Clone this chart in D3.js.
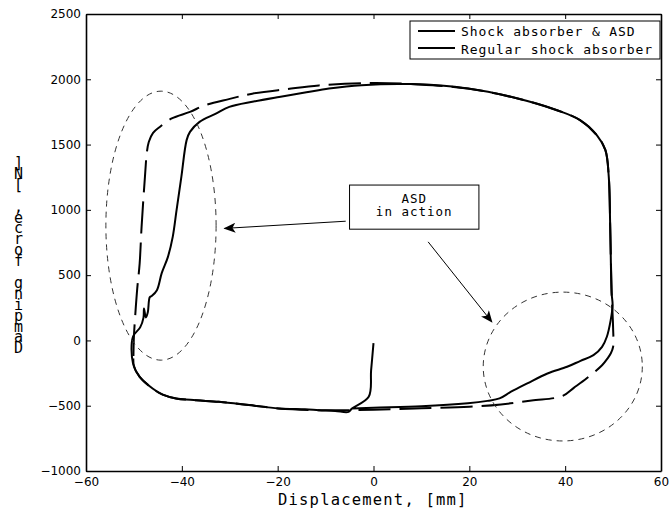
<!DOCTYPE html>
<html lang="en">
<head>
<meta charset="UTF-8">
<title>Damping force vs displacement</title>
<script src="https://d3js.org/d3.v7.min.js"></script>
<style>
    body { margin: 0; background: #fff; overflow: hidden; }
    .tick text { font-family: "DejaVu Sans", sans-serif; font-size: 12px; fill: #000; }
    .mono { font-family: "DejaVu Sans Mono", monospace; fill: #000; }
</style>
</head>
<body>
<div id="chart"></div>
<script>
const width = 669, height = 512;
const margin = { top: 14, right: 4, bottom: 41, left: 86 };

// axis ticks
const xTicks = [-60, -40, -20, 0, 20, 40, 60];
const yTicks = [-1000, -500, 0, 500, 1000, 1500, 2000, 2500];

// Regular shock absorber (solid)
const regularDisp = [0, -0.5, -1.0, -4.5, -5.2, -8, -11.4, -14.3, -19.8, -26, -32.3, -37, -41.2, -44, -46.1, -48.8, -50.2, -50.2,
    -48.7, -48.0, -47.9, -47.5, -47.1, -46.7, -46.3, -45.2, -44.2, -42.9, -41.9, -41.1, -40.1, -39.0, -38.3, -36.3, -33, -30.1,
    -25, -19.7, -14, -9.3, -2.5, 7.9, 19.7, 30.1, 38.3, 43.1, 46.6, 48.4, 49.1, 49.4, 49.7, 49.9, 49.5, 48.7, 47.7, 45.9,
    43.2, 40.4, 36.3, 32.1, 28.7, 26.3, 23.8, 19.7, 10, 0, -4.5];
const regularForce = [-20, -230, -432, -521, -547, -540, -534, -528, -521, -495, -470, -458, -444, -415, -368, -279, -174, 28,
    100, 175, 245, 175, 215, 330, 340, 385, 515, 640, 793, 998, 1253, 1534, 1597, 1674, 1735, 1789,
    1830, 1865, 1900, 1929, 1955, 1963, 1929, 1853, 1763, 1687, 1572, 1457, 1253, 870, 362, 270, 155, 28, -49, -113,
    -156, -202, -253, -329, -393, -444, -463, -482, -505, -515, -521];

// Shock absorber & ASD (dashed)
const asdDisp = [-50.1, -50.0, -49.7, -49.3, -48.8, -48.4, -47.7, -47.3, -46.9, -46.0, -44.6, -42.1, -38.3, -35.2, -30, -25.3,
    -18, -11.4, -0.4, 9.3, 19.7, 30.1, 38.3, 43.1, 46.6, 48.4, 49.1, 49.4, 49.7, 50.0, 50.0, 49.5, 48.8, 47.7, 44.5,
    41.8, 39.4, 33, 26.6, 20, 10, 0, -10, -19.8, -26, -32.3, -37, -41.2, -44, -46.1, -48.8, -50.0, -50.1];
const asdForce = [-120, 30, 205, 400, 590, 870, 1253, 1440, 1520, 1590, 1635, 1700, 1750, 1801, 1850, 1890,
    1925, 1953, 1971, 1961, 1929, 1853, 1763, 1687, 1572, 1457, 1253, 870, 362, 100, -50, -100, -140, -190, -290,
    -363, -426, -460, -490, -508, -520, -530, -535, -521, -495, -470, -458, -444, -415, -368, -279, -200, -120];

const legendLabels = ["Shock absorber & ASD", "Regular shock absorber"];
const xLabel = "Displacement, [mm]";
const yLabel = "Damping force, [N]";
const noteLines = ["ASD", "in action"];

// highlighted regions (data units): cx, cy, rx, ry
const regions = [
    { cx: -44.35, cy: 879, rx: 11.5, ry: 1030 },
    { cx: 39.5, cy: -200, rx: 16.6, ry: 570 }
];
// annotation box and arrows (data units)
const noteBox = { x0: -5, x1: 22, y0: 1190, y1: 852 };
const arrows = [
    { from: [-5.8, 913], to: [-31.1, 858] },
    { from: [11.4, 755], to: [24.7, 142] }
];

const x = d3.scaleLinear().domain([-60, 60]).range([margin.left, width - margin.right - 4]);
const y = d3.scaleLinear().domain([-1000, 2500]).range([height - margin.bottom, margin.top]);

const svg = d3.select("#chart").append("svg")
    .attr("width", width)
    .attr("height", height);

svg.append("defs").append("marker")
    .attr("id", "head")
    .attr("viewBox", "0 0 12 10")
    .attr("refX", 11).attr("refY", 5)
    .attr("markerWidth", 12).attr("markerHeight", 10)
    .attr("markerUnits", "userSpaceOnUse")
    .attr("orient", "auto")
    .append("path")
    .attr("d", "M0,0 L12,5 L0,10 L3,5 Z")
    .attr("fill", "#000");

// axes: inward ticks on all four sides
const x0 = x(-60), x1 = x(60), y0 = y(-1000), y1 = y(2500);
const fmt = d3.format("d");
const axisStyle = g => {
    g.select(".domain").attr("stroke", "#000").attr("stroke-width", 1.6);
    g.selectAll(".tick line").attr("stroke", "#000");
};
svg.append("g")
    .attr("transform", `translate(0,${y0})`)
    .call(d3.axisBottom(x).tickValues(xTicks).tickFormat(fmt).tickSize(-5).tickSizeOuter(0).tickPadding(6))
    .call(axisStyle);
svg.append("g")
    .attr("transform", `translate(0,${y1})`)
    .call(d3.axisTop(x).tickValues(xTicks).tickSize(-5).tickSizeOuter(0).tickFormat(""))
    .call(axisStyle);
svg.append("g")
    .attr("transform", `translate(${x0},0)`)
    .call(d3.axisLeft(y).tickValues(yTicks).tickFormat(fmt).tickSize(-5).tickSizeOuter(0).tickPadding(5))
    .call(axisStyle);
svg.append("g")
    .attr("transform", `translate(${x1},0)`)
    .call(d3.axisRight(y).tickValues(yTicks).tickSize(-5).tickSizeOuter(0).tickFormat(""))
    .call(axisStyle);

// curves
const line = d3.line()
    .x(d => x(d[0]))
    .y(d => y(d[1]))
    .curve(d3.curveCatmullRom.alpha(0.5));

svg.append("path")
    .datum(d3.zip(regularDisp, regularForce))
    .attr("d", line)
    .attr("fill", "none")
    .attr("stroke", "#000")
    .attr("stroke-width", 2)
    .attr("stroke-linejoin", "round");

svg.append("path")
    .datum(d3.zip(asdDisp, asdForce))
    .attr("d", line)
    .attr("fill", "none")
    .attr("stroke", "#000")
    .attr("stroke-width", 2)
    .attr("stroke-dasharray", "32,9");

// dashed ellipses
svg.selectAll(".region")
    .data(regions)
    .enter().append("ellipse")
    .attr("class", "region")
    .attr("cx", d => x(d.cx))
    .attr("cy", d => y(d.cy))
    .attr("rx", d => x(d.rx) - x(0))
    .attr("ry", d => y(0) - y(d.ry))
    .attr("fill", "none")
    .attr("stroke", "#333")
    .attr("stroke-width", 1)
    .attr("stroke-dasharray", "6,5");

// annotation
svg.append("rect")
    .attr("x", x(noteBox.x0))
    .attr("y", y(noteBox.y0))
    .attr("width", x(noteBox.x1) - x(noteBox.x0))
    .attr("height", y(noteBox.y1) - y(noteBox.y0))
    .attr("fill", "#fff")
    .attr("stroke", "#000")
    .attr("stroke-width", 1);

svg.selectAll(".note")
    .data(noteLines)
    .enter().append("text")
    .attr("class", "mono note")
    .attr("x", (x(noteBox.x0) + x(noteBox.x1)) / 2)
    .attr("y", (d, i) => y(noteBox.y0) + 18 + i * 12.5)
    .attr("text-anchor", "middle")
    .style("font-size", "12.5px")
    .style("letter-spacing", "1px")
    .text(d => d);

svg.selectAll(".arrow")
    .data(arrows)
    .enter().append("line")
    .attr("class", "arrow")
    .attr("x1", d => x(d.from[0])).attr("y1", d => y(d.from[1]))
    .attr("x2", d => x(d.to[0])).attr("y2", d => y(d.to[1]))
    .attr("stroke", "#000")
    .attr("stroke-width", 1)
    .attr("marker-end", "url(#head)");

// legend
const legend = svg.append("g").attr("transform", "translate(410,21)");
legend.append("rect")
    .attr("width", 250).attr("height", 38)
    .attr("fill", "#fff").attr("stroke", "#000").attr("stroke-width", 1);
legendLabels.forEach((label, i) => {
    legend.append("line")
        .attr("x1", 8).attr("x2", 45)
        .attr("y1", 10 + i * 17).attr("y2", 10 + i * 17)
        .attr("stroke", "#000").attr("stroke-width", 2);
    legend.append("text")
        .attr("class", "mono")
        .attr("x", 51).attr("y", 15 + i * 17.5)
        .style("font-size", "13px")
        .style("letter-spacing", "0.9px")
        .text(label);
});

// axis labels
svg.append("text")
    .attr("class", "mono")
    .attr("x", 278).attr("y", 505)
    .style("font-size", "15.5px")
    .style("letter-spacing", "1.2px")
    .text(xLabel);

// y label: upright glyphs stacked bottom to top
svg.append("g").selectAll("text")
    .data(yLabel.split(""))
    .enter().append("text")
    .attr("class", "mono")
    .attr("x", 18.5)
    .attr("y", (d, i) => 353.3 - i * 10.9)
    .attr("text-anchor", "middle")
    .style("font-size", "15px")
    .text(d => d);
</script>
</body>
</html>
